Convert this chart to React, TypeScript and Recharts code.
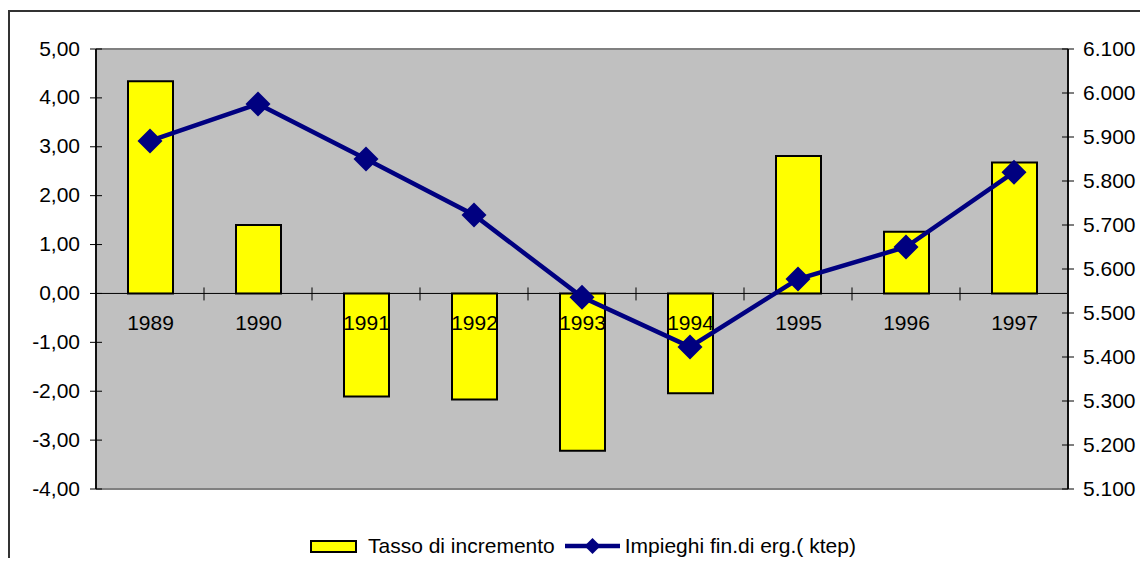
import React from "react";
import {
  ComposedChart,
  Bar,
  Line,
  XAxis,
  YAxis,
  CartesianGrid,
  ReferenceLine,
  LabelList,
} from "recharts";

const years = ["1989", "1990", "1991", "1992", "1993", "1994", "1995", "1996", "1997"];
// annual growth rate (%)
const growthRate = [4.34, 1.4, -2.11, -2.17, -3.22, -2.04, 2.81, 1.26, 2.68];
// final energy use (ktep)
const finalUse = [5891, 5975, 5850, 5723, 5536, 5423, 5577, 5650, 5820];

const rateTicks = [-4, -3, -2, -1, 0, 1, 2, 3, 4, 5];
const useTicks = [5100, 5200, 5300, 5400, 5500, 5600, 5700, 5800, 5900, 6000, 6100];

const rateName = "Tasso di incremento";
const useName = "Impieghi fin.di erg.( ktep)";

const data = years.map((year, i) => ({
  year,
  rate: growthRate[i],
  ktep: finalUse[i],
}));

const FONT = '"Liberation Sans", Arial, sans-serif';
const FONT_SIZE = 21;
const NAVY = "#000080";
const YELLOW = "#FFFF00";

const fmtRate = (v: number) => v.toFixed(2).replace(".", ",");
const fmtKtep = (v: number) => String(v).replace(/\B(?=(\d{3})+(?!\d))/g, ".");

// ticks cross the axis line on both sides
function LeftTick({ x, y, payload }: any) {
  return (
    <g>
      <line x1={x + 10} x2={x + 22} y1={y} y2={y} stroke="#000" />
      <text x={x} y={y + 6.5} textAnchor="end" fontSize={FONT_SIZE} fontFamily={FONT} fill="#000">
        {fmtRate(payload.value)}
      </text>
    </g>
  );
}

function RightTick({ x, y, payload }: any) {
  return (
    <g>
      <line x1={x - 21} x2={x - 9} y1={y} y2={y} stroke="#000" />
      <text x={x} y={y + 6.5} textAnchor="start" fontSize={FONT_SIZE} fontFamily={FONT} fill="#000">
        {fmtKtep(payload.value)}
      </text>
    </g>
  );
}

// category axis sitting on the zero line, with ticks between categories
function ZeroAxis(props: any) {
  const { x1, x2, y1 } = props;
  const step = (x2 - x1) / years.length;
  return (
    <g>
      <line x1={x1} x2={x2} y1={y1} y2={y1} stroke="#000" />
      {years.slice(1).map((_, i) => {
        const x = x1 + step * (i + 1);
        return <line key={i} x1={x} x2={x} y1={y1 - 6} y2={y1 + 7} stroke="#000" />;
      })}
    </g>
  );
}

function YearLabel(props: any) {
  const vb = props.viewBox ?? props;
  const zero = vb.y + vb.height;
  return (
    <text
      x={vb.x + vb.width / 2}
      y={zero + 37}
      textAnchor="middle"
      fontSize={FONT_SIZE}
      fontFamily={FONT}
      fill="#000"
    >
      {props.value}
    </text>
  );
}

function Diamond({ cx, cy, r = 12.5 }: any) {
  if (cx == null || cy == null) return null;
  return (
    <polygon
      points={`${cx},${cy - r} ${cx + r},${cy} ${cx},${cy + r} ${cx - r},${cy}`}
      fill={NAVY}
    />
  );
}

export default function App() {
  return (
    <div style={{ position: "relative", width: 1132, height: 550, fontFamily: FONT }}>
      <div
        style={{
          position: "absolute",
          left: 0,
          top: 2,
          right: -8,
          bottom: 0,
          borderLeft: "2px solid #333",
          borderTop: "2px solid #333",
        }}
      />
      <ComposedChart
        width={1132}
        height={550}
        data={data}
        margin={{ top: 41, right: 0, bottom: 69, left: 0 }}
        style={{ position: "absolute", left: 0, top: 0 }}
      >
        <CartesianGrid
          fill="#C0C0C0"
          stroke="#808080"
          strokeWidth={2}
          vertical={false}
          horizontalCoordinatesGenerator={({ offset }: any) => [
            offset.top,
            offset.top + offset.height,
          ]}
        />
        <XAxis dataKey="year" hide />
        <YAxis
          domain={[-4, 5]}
          ticks={rateTicks}
          width={88}
          tickSize={6}
          tickMargin={10}
          tickLine={false}
          axisLine={{ stroke: "#111", strokeWidth: 2 }}
          tick={<LeftTick />}
          interval={0}
        />
        <YAxis
          yAxisId="right"
          orientation="right"
          domain={[5100, 6100]}
          ticks={useTicks}
          width={72}
          tickSize={6}
          tickMargin={9}
          tickLine={false}
          axisLine={{ stroke: "#111", strokeWidth: 2 }}
          tick={<RightTick />}
          interval={0}
        />
        <Bar
          dataKey="rate"
          name={rateName}
          barSize={45}
          fill={YELLOW}
          stroke="#000"
          strokeWidth={2}
          isAnimationActive={false}
        >
          <LabelList dataKey="year" content={YearLabel} />
        </Bar>
        <ReferenceLine y={0} shape={<ZeroAxis />} />
        <Line
          yAxisId="right"
          dataKey="ktep"
          name={useName}
          stroke={NAVY}
          strokeWidth={4.5}
          dot={(p: any) => <Diamond key={p.index} cx={p.cx} cy={p.cy} />}
          activeDot={false}
          isAnimationActive={false}
        />
      </ComposedChart>
      <div
        style={{
          position: "absolute",
          left: 302,
          top: 526,
          display: "flex",
          alignItems: "center",
          fontSize: FONT_SIZE,
          color: "#000",
          whiteSpace: "nowrap",
        }}
      >
        <span style={{ width: 43, height: 9, background: YELLOW, border: "2px solid #000" }} />
        <span style={{ marginLeft: 11 }}>{rateName}</span>
        <svg width={55} height={20} style={{ marginLeft: 10 }}>
          <line x1={0} x2={55} y1={10} y2={10} stroke={NAVY} strokeWidth={4.5} />
          <Diamond cx={27.5} cy={10} r={8} />
        </svg>
        <span style={{ marginLeft: 5 }}>{useName}</span>
      </div>
    </div>
  );
}
